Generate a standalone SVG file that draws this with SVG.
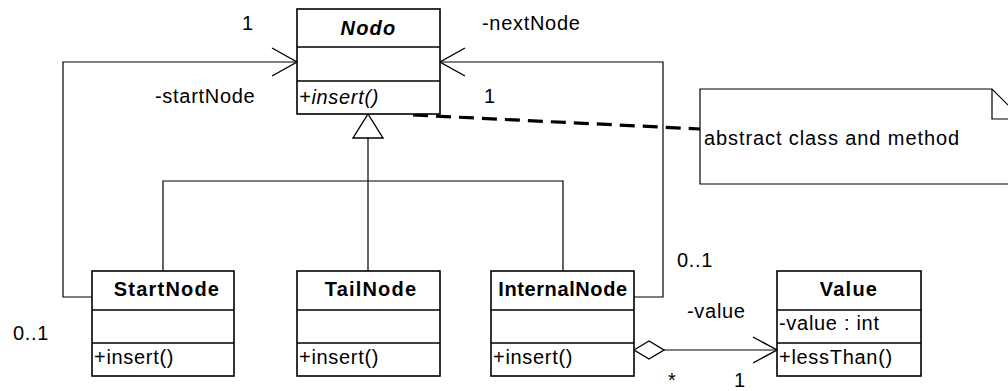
<svg xmlns="http://www.w3.org/2000/svg" width="1008" height="391" viewBox="0 0 1008 391">
  <style>
    text { font-family: "Liberation Sans", Arial, sans-serif; font-size: 20px; fill: #000; letter-spacing: 0.7px; }
    .name { font-weight: bold; text-anchor: middle; letter-spacing: 1.2px; }
    .abstract { font-style: italic; }
    .box { fill: #fff; stroke: #000; stroke-width: 1.6; }
    .sep { stroke: #000; stroke-width: 1.6; }
    .line { fill: none; stroke: #000; stroke-width: 1.2; }
    .head { fill: none; stroke: #000; stroke-width: 1.4; }
    .hollow { fill: #fff; stroke: #000; stroke-width: 1.4; }
    .dash { fill: none; stroke: #000; stroke-width: 3.2; stroke-dasharray: 15 8; }
  </style>

  <!-- connectors -->
  <g id="connectors">
    <!-- StartNode -startNode association -->
    <polyline class="line" points="92,297 63,297 63,62 297,62"/>
    <polyline class="head" points="272,48 297,62 272,76"/>
    <!-- InternalNode -nextNode association -->
    <polyline class="line" points="634,297 663,297 663,62 440,62"/>
    <polyline class="head" points="465,48 440,62 465,76"/>
    <!-- generalization tree -->
    <polyline class="line" points="163,271 163,181 563,181 563,271"/>
    <line class="line" x1="368" y1="138" x2="368" y2="271"/>
    <polygon class="hollow" points="368,114 383,138 353,138"/>
    <!-- aggregation InternalNode to Value -->
    <line class="line" x1="664" y1="350" x2="777" y2="350"/>
    <polygon class="hollow" points="634,350 649,341 664,350 649,359"/>
    <polyline class="head" points="753,337 777,350 753,363"/>
    <!-- note anchor -->
    <line class="dash" x1="413" y1="115" x2="700" y2="129"/>
  </g>

  <!-- association end labels -->
  <g id="labels">
    <text x="242" y="30">1</text>
    <text x="155" y="103">-startNode</text>
    <text x="482" y="30">-nextNode</text>
    <text x="484" y="103">1</text>
    <text x="677" y="267">0..1</text>
    <text x="13" y="340">0..1</text>
    <text x="687" y="318">-value</text>
    <text x="668" y="387">*</text>
    <text x="734" y="387">1</text>
  </g>

  <g id="Nodo">
    <rect class="box" x="297" y="9" width="143" height="105"/>
    <line class="sep" x1="297" y1="47" x2="440" y2="47"/>
    <line class="sep" x1="297" y1="81" x2="440" y2="81"/>
    <text class="name abstract" x="368.5" y="35">Nodo</text>
    <text class="abstract" x="299" y="104">+insert()</text>
  </g>

  <g id="StartNode">
    <rect class="box" x="92" y="271" width="142" height="105"/>
    <line class="sep" x1="92" y1="310" x2="234" y2="310"/>
    <line class="sep" x1="92" y1="343" x2="234" y2="343"/>
    <text class="name" x="167" y="296">StartNode</text>
    <text x="94" y="364">+insert()</text>
  </g>

  <g id="TailNode">
    <rect class="box" x="297" y="271" width="143" height="105"/>
    <line class="sep" x1="297" y1="310" x2="440" y2="310"/>
    <line class="sep" x1="297" y1="343" x2="440" y2="343"/>
    <text class="name" x="371" y="296">TailNode</text>
    <text x="299" y="364">+insert()</text>
  </g>

  <g id="InternalNode">
    <rect class="box" x="491" y="271" width="143" height="105"/>
    <line class="sep" x1="491" y1="310" x2="634" y2="310"/>
    <line class="sep" x1="491" y1="343" x2="634" y2="343"/>
    <text class="name" x="563" y="296" style="letter-spacing:0.6px">InternalNode</text>
    <text x="493" y="364">+insert()</text>
  </g>

  <g id="Value">
    <rect class="box" x="777" y="271" width="144" height="105"/>
    <line class="sep" x1="777" y1="310" x2="921" y2="310"/>
    <line class="sep" x1="777" y1="343" x2="921" y2="343"/>
    <text class="name" x="849" y="296">Value</text>
    <text x="779" y="330">-value : int</text>
    <text x="779" y="364">+lessThan()</text>
  </g>

  <g id="note">
    <polygon class="box" style="stroke-width:1.2" points="700,89 992,89 1022,119 1022,184 700,184"/>
    <polyline class="line" points="992,89 992,119 1022,119"/>
    <text x="704" y="145" style="letter-spacing:0.9px">abstract class and method</text>
  </g>
</svg>
